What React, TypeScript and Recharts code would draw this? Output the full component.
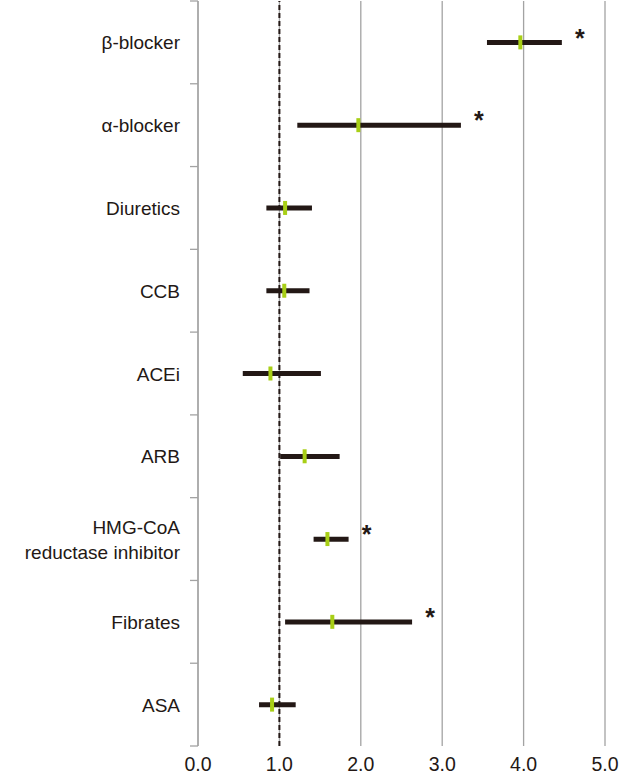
import React from 'react';
import { ComposedChart, Bar, Scatter, XAxis, YAxis, CartesianGrid, ReferenceLine, LabelList } from 'recharts';

const categories = ['β-blocker', 'α-blocker', 'Diuretics', 'CCB', 'ACEi', 'ARB', 'HMG-CoA\nreductase inhibitor', 'Fibrates', 'ASA'];
const lower = [3.55, 1.22, 0.84, 0.84, 0.55, 1.01, 1.42, 1.07, 0.75];
const upper = [4.47, 3.23, 1.40, 1.37, 1.51, 1.74, 1.85, 2.63, 1.20];
const estimate = [3.96, 1.97, 1.07, 1.06, 0.89, 1.31, 1.59, 1.65, 0.91];
const significant = ['*', '*', '', '', '', '', '*', '*', ''];
const xTicks = [0, 1, 2, 3, 4, 5];

const data = categories.map((name, i) => ({
  name,
  ci: [lower[i], upper[i]],
  est: estimate[i],
  sig: significant[i],
}));

const W = 620;
const H = 776;
const TOP = 1;
const XAXIS_H = 30;
const PLOT_H = H - TOP - XAXIS_H;
const BAND = PLOT_H / categories.length;
const FONT = '"Liberation Sans", Arial, Helvetica, sans-serif';
const INK = '#231815';
const GREEN = '#a8cf16';
const GRID = '#a3a3a3';

const YTick = (props: any) => {
  const { x, y, payload, index } = props;
  const lines = String(payload.value).split('\n');
  const lh = 25;
  const startDy = -((lines.length - 1) * lh) / 2;
  return (
    <g>
      <text x={x} y={y} textAnchor="end" fontSize={19} fill={INK} fontFamily={FONT} dominantBaseline="central">
        {lines.map((l, i) => (
          <tspan key={i} x={x} dy={i === 0 ? startDy : lh}>{l}</tspan>
        ))}
      </text>
      {index === 0 && <line x1={x + 10} x2={x + 18} y1={y - BAND / 2} y2={y - BAND / 2} stroke={GRID} strokeWidth={1.3} />}
      <line x1={x + 10} x2={x + 18} y1={y + BAND / 2} y2={y + BAND / 2} stroke={GRID} strokeWidth={1.3} />
    </g>
  );
};

const Marker = (props: any) => {
  const { cx, cy } = props;
  return <rect x={cx - 2} y={cy - 7} width={4} height={14} fill={GREEN} />;
};

const Star = (props: any) => {
  const { x, y, width, height, value } = props;
  if (!value) return null;
  return (
    <text x={x + width + 18} y={y + height / 2 + 4} textAnchor="middle" fontSize={25} fontWeight="bold" fill={INK} fontFamily={FONT}>
      {value}
    </text>
  );
};

export default function App() {
  return (
    <div style={{ position: 'absolute', left: 0, top: 0, width: W, height: H, background: '#fff' }}>
      <ComposedChart
        width={W}
        height={H}
        data={data}
        layout="vertical"
        margin={{ top: TOP, right: 15, left: 0, bottom: 0 }}
        barCategoryGap={0}
      >
        <CartesianGrid horizontal={false} stroke={GRID} strokeWidth={1.3} />
        <XAxis
          type="number"
          domain={[0, 5]}
          ticks={xTicks}
          axisLine={false}
          tickLine={false}
          height={XAXIS_H}
          tickMargin={5}
          tickFormatter={(v: number) => v.toFixed(1)}
          tick={{ fontSize: 19.5, fill: INK, fontFamily: FONT }}
          interval={0}
        />
        <YAxis
          type="category"
          dataKey="name"
          width={198}
          axisLine={{ stroke: GRID, strokeWidth: 1.3 }}
          tickLine={false}
          tickSize={8}
          tickMargin={10}
          tick={<YTick />}
          interval={0}
        />
        <ReferenceLine x={1} stroke={INK} strokeWidth={2} strokeDasharray="5 3" />
        <Bar dataKey="ci" fill={INK} barSize={5} isAnimationActive={false}>
          <LabelList dataKey="sig" content={<Star />} />
        </Bar>
        <Scatter dataKey="est" shape={<Marker />} isAnimationActive={false} />
      </ComposedChart>
    </div>
  );
}
